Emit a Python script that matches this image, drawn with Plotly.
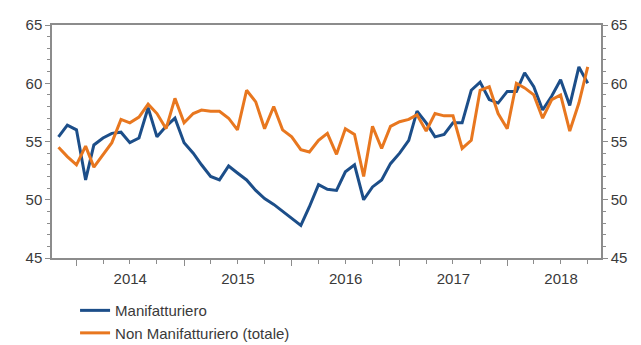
import pandas as pd
import plotly.graph_objects as go

dates = pd.date_range("2013-11-01", periods=60, freq="MS")

manifatturiero = [
    55.4, 56.4, 56.0, 51.7, 54.7, 55.3, 55.7, 55.8, 54.9, 55.3,
    57.9, 55.4, 56.3, 57.0, 54.9, 54.0, 53.0, 52.0, 51.7, 52.9,
    52.3, 51.7, 50.8, 50.1, 49.6, 49.0, 48.4, 47.8, 49.4, 51.3,
    50.9, 50.8, 52.4, 53.0, 50.0, 51.1, 51.7, 53.1, 54.0, 55.1,
    57.6, 56.6, 55.4, 55.6, 56.6, 56.6, 59.4, 60.1, 58.6, 58.3,
    59.3, 59.3, 60.9, 59.7, 57.7, 58.9, 60.3, 58.1, 61.4, 60.0,
]

non_manifatturiero = [
    54.5, 53.7, 53.0, 54.6, 52.8, 53.9, 54.9, 56.9, 56.6, 57.1,
    58.2, 57.4, 56.1, 58.7, 56.6, 57.4, 57.7, 57.6, 57.6, 57.0,
    56.0, 59.4, 58.4, 56.1, 58.0, 56.0, 55.4, 54.3, 54.1, 55.1,
    55.7, 53.9, 56.1, 55.6, 52.0, 56.3, 54.4, 56.3, 56.7, 56.9,
    57.3, 55.9, 57.4, 57.2, 57.2, 54.4, 55.1, 59.4, 59.7, 57.4,
    56.1, 60.0, 59.6, 59.0, 57.0, 58.6, 59.0, 55.9, 58.3, 61.4,
]

y_ticks = [45, 50, 55, 60, 65]

BLUE = "#1C4E89"
ORANGE = "#E8771F"
AXIS = "#8C8C8C"
TEXT = "#3A3A3A"
FONT = "Liberation Sans, Arial, sans-serif"

fig = go.Figure()
fig.add_trace(go.Scatter(x=dates, y=manifatturiero, mode="lines",
                         name="Manifatturiero",
                         line=dict(color=BLUE, width=3)))
fig.add_trace(go.Scatter(x=dates, y=non_manifatturiero, mode="lines",
                         name="Non Manifatturiero (totale)",
                         line=dict(color=ORANGE, width=3), yaxis="y2"))

yax = dict(range=[45, 65], tickvals=y_ticks, ticks="outside", ticklen=5,
           tickcolor=AXIS, showline=True, linecolor=AXIS, linewidth=1.5,
           showgrid=False, zeroline=False, automargin=False,
           tickfont=dict(family=FONT, size=15, color=TEXT),
           minor=dict(dtick=1, ticks="outside", ticklen=3, tickcolor=AXIS,
                      showgrid=False))

fig.update_layout(
    template="none",
    width=641, height=345,
    margin=dict(l=44, r=48, t=17, b=95, autoexpand=False),
    paper_bgcolor="white", plot_bgcolor="white",
    showlegend=True,
    legend=dict(x=0.042, y=-0.155, xanchor="left", yanchor="top",
                orientation="v", font=dict(family=FONT, size=15, color=TEXT),
                tracegroupgap=0, itemwidth=30, bgcolor="rgba(0,0,0,0)"),
    xaxis=dict(type="date", range=["2013-10-10", "2018-11-15"],
               tick0="2014-01-01", dtick="M12", tickformat="%Y",
               ticklabelmode="period", ticks="outside", ticklen=6,
               tickcolor=AXIS, showline=True, linecolor=AXIS, linewidth=1.5,
               mirror=True, showgrid=False, zeroline=False, automargin=False,
               tickfont=dict(family=FONT, size=15, color=TEXT),
               minor=dict(dtick="M3", tick0="2014-01-01", ticks="outside",
                          ticklen=4, tickcolor=AXIS, showgrid=False)),
    yaxis=dict(side="left", **yax),
    yaxis2=dict(side="right", overlaying="y", matches="y", **yax),
)

fig.write_html("out.html")
